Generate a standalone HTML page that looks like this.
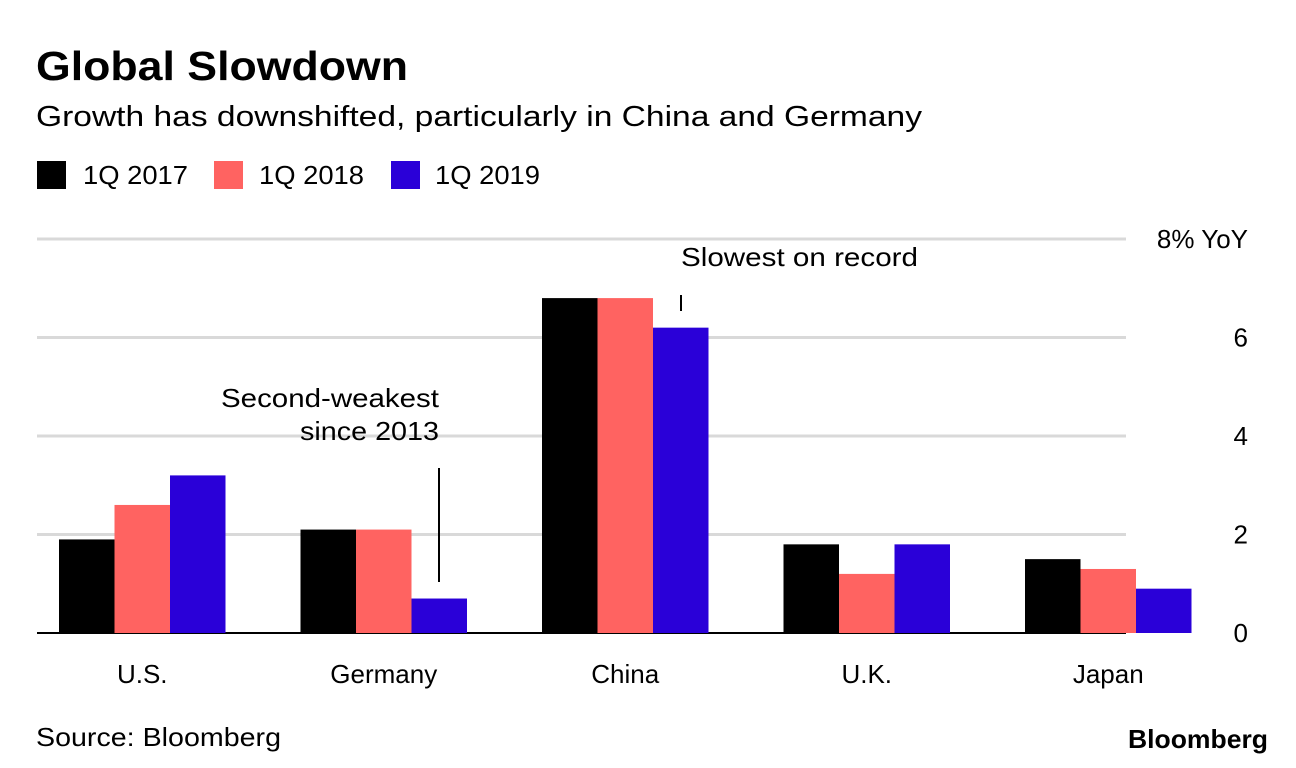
<!DOCTYPE html>
<html><head><meta charset="utf-8"><style>
body{margin:0;background:#fff;font-family:"Liberation Sans",sans-serif;}
#wrap{position:relative;width:1296px;height:768px;overflow:hidden;background:#fff;}
</style></head><body>
<div id="wrap">
<svg id="chart" width="1296" height="768" font-family="Liberation Sans, sans-serif">
<text x="36" y="80" font-size="41" font-weight="bold" fill="#000" textLength="372" lengthAdjust="spacingAndGlyphs">Global Slowdown</text>
<text x="36" y="126" font-size="29" fill="#000" textLength="886" lengthAdjust="spacingAndGlyphs">Growth has downshifted, particularly in China and Germany</text>
<g>
<rect x="37" y="161" width="29" height="28" fill="#000"/>
<text x="83" y="184" font-size="26" textLength="105" lengthAdjust="spacingAndGlyphs">1Q 2017</text>
<rect x="214" y="161" width="29" height="28" fill="#ff6361"/>
<text x="259" y="184" font-size="26" textLength="105" lengthAdjust="spacingAndGlyphs">1Q 2018</text>
<rect x="391" y="161" width="29" height="28" fill="#2a00d8"/>
<text x="435" y="184" font-size="26" textLength="105" lengthAdjust="spacingAndGlyphs">1Q 2019</text>
</g>
<g id="grid"></g><g id="bars"></g><g id="labels"></g>
<g>
<text x="221" y="407" font-size="26" textLength="218" lengthAdjust="spacingAndGlyphs">Second-weakest</text>
<text x="300" y="440" font-size="26" textLength="139" lengthAdjust="spacingAndGlyphs">since 2013</text>
<line x1="439" y1="468" x2="439" y2="582" stroke="#000" stroke-width="2"/>
</g>
<g>
<text x="681" y="266" font-size="26" textLength="237" lengthAdjust="spacingAndGlyphs">Slowest on record</text>
<line x1="681" y1="295" x2="681" y2="311" stroke="#000" stroke-width="2"/>
</g>
<text x="36" y="746" font-size="26" textLength="245" lengthAdjust="spacingAndGlyphs">Source: Bloomberg</text>
<text x="1128" y="748" font-size="26" font-weight="bold" textLength="140" lengthAdjust="spacingAndGlyphs">Bloomberg</text>
</svg>
</div>
<script>
const categories=["U.S.","Germany","China","U.K.","Japan"];
const series2017=[1.9,2.1,6.8,1.8,1.5];
const series2018=[2.6,2.1,6.8,1.2,1.3];
const series2019=[3.2,0.7,6.2,1.8,0.9];
const yTicks=[0,2,4,6,8];
const yTickLabels=["0","2","4","6","8% YoY"];
const NS="http://www.w3.org/2000/svg";
const y0=633,yPer=49.25;
function yScale(v){return y0-v*yPer;}
function xGroup(i){return 59+i*241.5;}
const barW=55.5;
const grid=document.getElementById('grid'),bars=document.getElementById('bars'),labels=document.getElementById('labels');
function mk(t,a){const e=document.createElementNS(NS,t);for(const k in a)e.setAttribute(k,a[k]);return e;}
yTicks.forEach((t,i)=>{
  const y=yScale(t);
  const l=mk('line',{x1:37,x2:1126,y1:y,y2:y,stroke:i===0?'#000':'#d9d9d9','stroke-width':i===0?2:3});
  
  
  grid.appendChild(l);
  const tx=mk('text',{x:1248,y:y+9,'font-size':26,'text-anchor':'end'});
  tx.textContent=yTickLabels[i];
  
  
  labels.appendChild(tx);
});
const sets=[[series2017,'#000','2017'],[series2018,'#ff6361','2018'],[series2019,'#2a00d8','2019']];
categories.forEach((c,i)=>{
  sets.forEach((s,j)=>{
    const v=s[0][i];
    const r=mk('rect',{x:xGroup(i)+j*barW,y:yScale(v),width:barW,height:v*yPer,fill:s[1]});
    
    
    bars.appendChild(r);
  });
  const t=mk('text',{x:xGroup(i)+barW*1.5,y:683,'font-size':26,'text-anchor':'middle'});
  t.textContent=c;
  
  
  labels.appendChild(t);
});
</script>
</body></html>
